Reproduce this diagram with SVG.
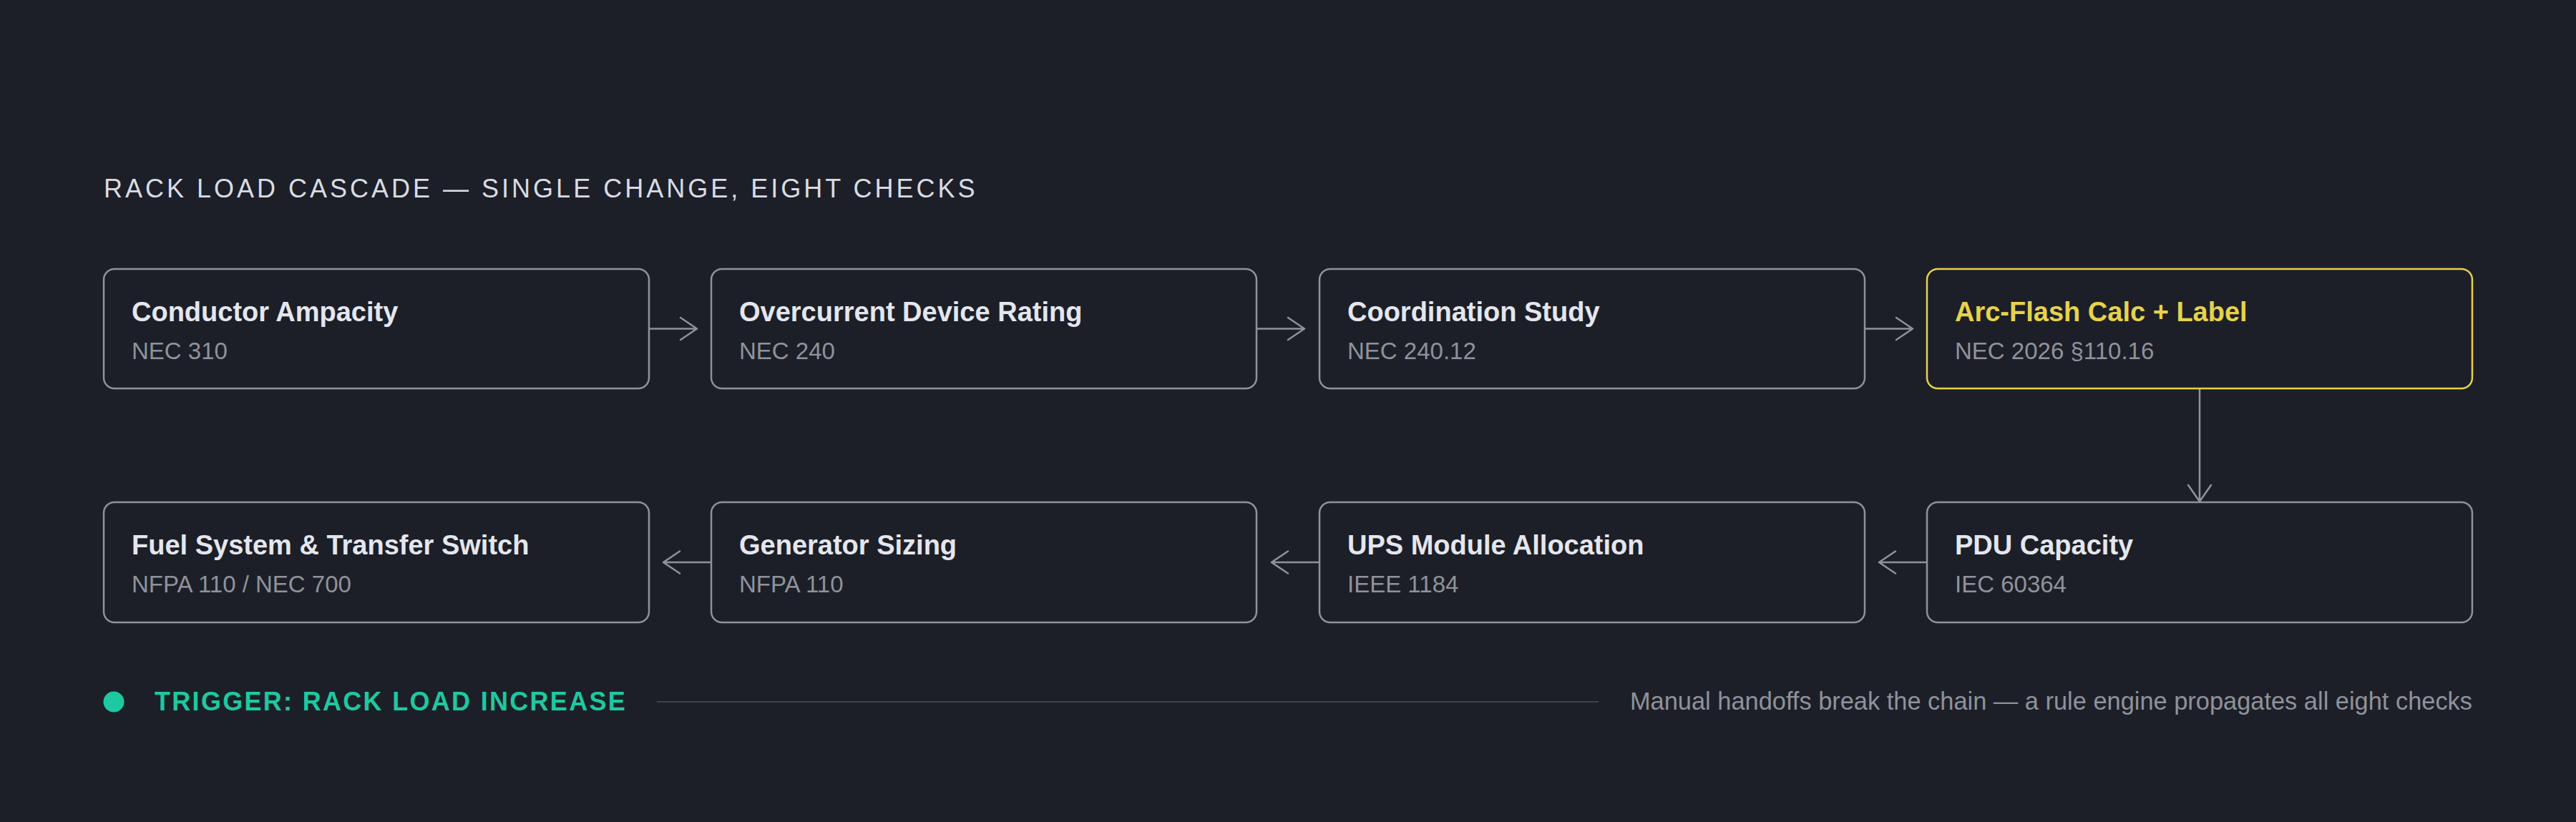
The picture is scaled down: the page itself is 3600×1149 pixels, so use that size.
<svg xmlns="http://www.w3.org/2000/svg" width="3600" height="1149" viewBox="0 0 3600 1149">
<style>
.bg{fill:#1c1f27}
.box{fill:#1c1f27;stroke:#8f929b;stroke-width:2.5}
.hl{fill:#1c1f27;stroke:#e6d24b;stroke-width:2.5}
.t{font-family:"Liberation Sans",Arial,sans-serif;font-weight:700;font-size:38px;fill:#e4e6ee}
.th{font-family:"Liberation Sans",Arial,sans-serif;font-weight:700;font-size:38px;fill:#e6d24b}
.s{font-family:"Liberation Sans",Arial,sans-serif;font-size:33px;fill:#8f929b}
.cn{fill:none;stroke:#8f929b;stroke-width:2.5;stroke-linecap:round;stroke-linejoin:round}
.head{font-family:"Liberation Sans",Arial,sans-serif;font-size:36px;letter-spacing:4px;fill:#d9dbe3}
.trig{font-family:"Liberation Sans",Arial,sans-serif;font-weight:700;font-size:36px;letter-spacing:2.3px;fill:#1dc9a0}
.note{font-family:"Liberation Sans",Arial,sans-serif;font-size:34.4px;fill:#8f929b}
</style>
<rect class="bg" x="0" y="0" width="3600" height="1149"/>
<text class="head" x="145" y="276">RACK LOAD CASCADE — SINGLE CHANGE, EIGHT CHECKS</text>

<g id="connectors">
<path class="cn" d="M907 459.5H974M951 444L974 459.5L951 475"/>
<path class="cn" d="M1756 459.5H1823M1800 444L1823 459.5L1800 475"/>
<path class="cn" d="M2606 459.5H2673M2650 444L2673 459.5L2650 475"/>
<path class="cn" d="M3074 543V701M3058 678L3074 701L3090 678"/>
<path class="cn" d="M2693 786H2626M2649 770.5L2626 786L2649 801.5"/>
<path class="cn" d="M1844 786H1777M1800 770.5L1777 786L1800 801.5"/>
<path class="cn" d="M994 786H927M950 770.5L927 786L950 801.5"/>
</g>

<g id="n1"><rect class="box" x="145" y="376" width="762" height="167" rx="15"/><text class="t" x="184" y="449">Conductor Ampacity</text><text class="s" x="184" y="502">NEC 310</text></g>
<g id="n2"><rect class="box" x="994" y="376" width="762" height="167" rx="15"/><text class="t" x="1033" y="449">Overcurrent Device Rating</text><text class="s" x="1033" y="502">NEC 240</text></g>
<g id="n3"><rect class="box" x="1844" y="376" width="762" height="167" rx="15"/><text class="t" x="1883" y="449">Coordination Study</text><text class="s" x="1883" y="502">NEC 240.12</text></g>
<g id="n4"><rect class="hl" x="2693" y="376" width="762" height="167" rx="15"/><text class="th" x="2732" y="449">Arc-Flash Calc + Label</text><text class="s" x="2732" y="502">NEC 2026 §110.16</text></g>
<g id="n5"><rect class="box" x="2693" y="702" width="762" height="168" rx="15"/><text class="t" x="2732" y="775">PDU Capacity</text><text class="s" x="2732" y="828">IEC 60364</text></g>
<g id="n6"><rect class="box" x="1844" y="702" width="762" height="168" rx="15"/><text class="t" x="1883" y="775">UPS Module Allocation</text><text class="s" x="1883" y="828">IEEE 1184</text></g>
<g id="n7"><rect class="box" x="994" y="702" width="762" height="168" rx="15"/><text class="t" x="1033" y="775">Generator Sizing</text><text class="s" x="1033" y="828">NFPA 110</text></g>
<g id="n8"><rect class="box" x="145" y="702" width="762" height="168" rx="15"/><text class="t" x="184" y="775">Fuel System &amp; Transfer Switch</text><text class="s" x="184" y="828">NFPA 110 / NEC 700</text></g>

<g id="footer">
<circle cx="159" cy="981" r="14.5" fill="#1dc9a0"/>
<text class="trig" x="216" y="993">TRIGGER: RACK LOAD INCREASE</text>
<line x1="918" y1="981" x2="2234" y2="981" stroke="#3f424b" stroke-width="2"/>
<text class="note" x="3455" y="992" text-anchor="end">Manual handoffs break the chain — a rule engine propagates all eight checks</text>
</g>
</svg>
